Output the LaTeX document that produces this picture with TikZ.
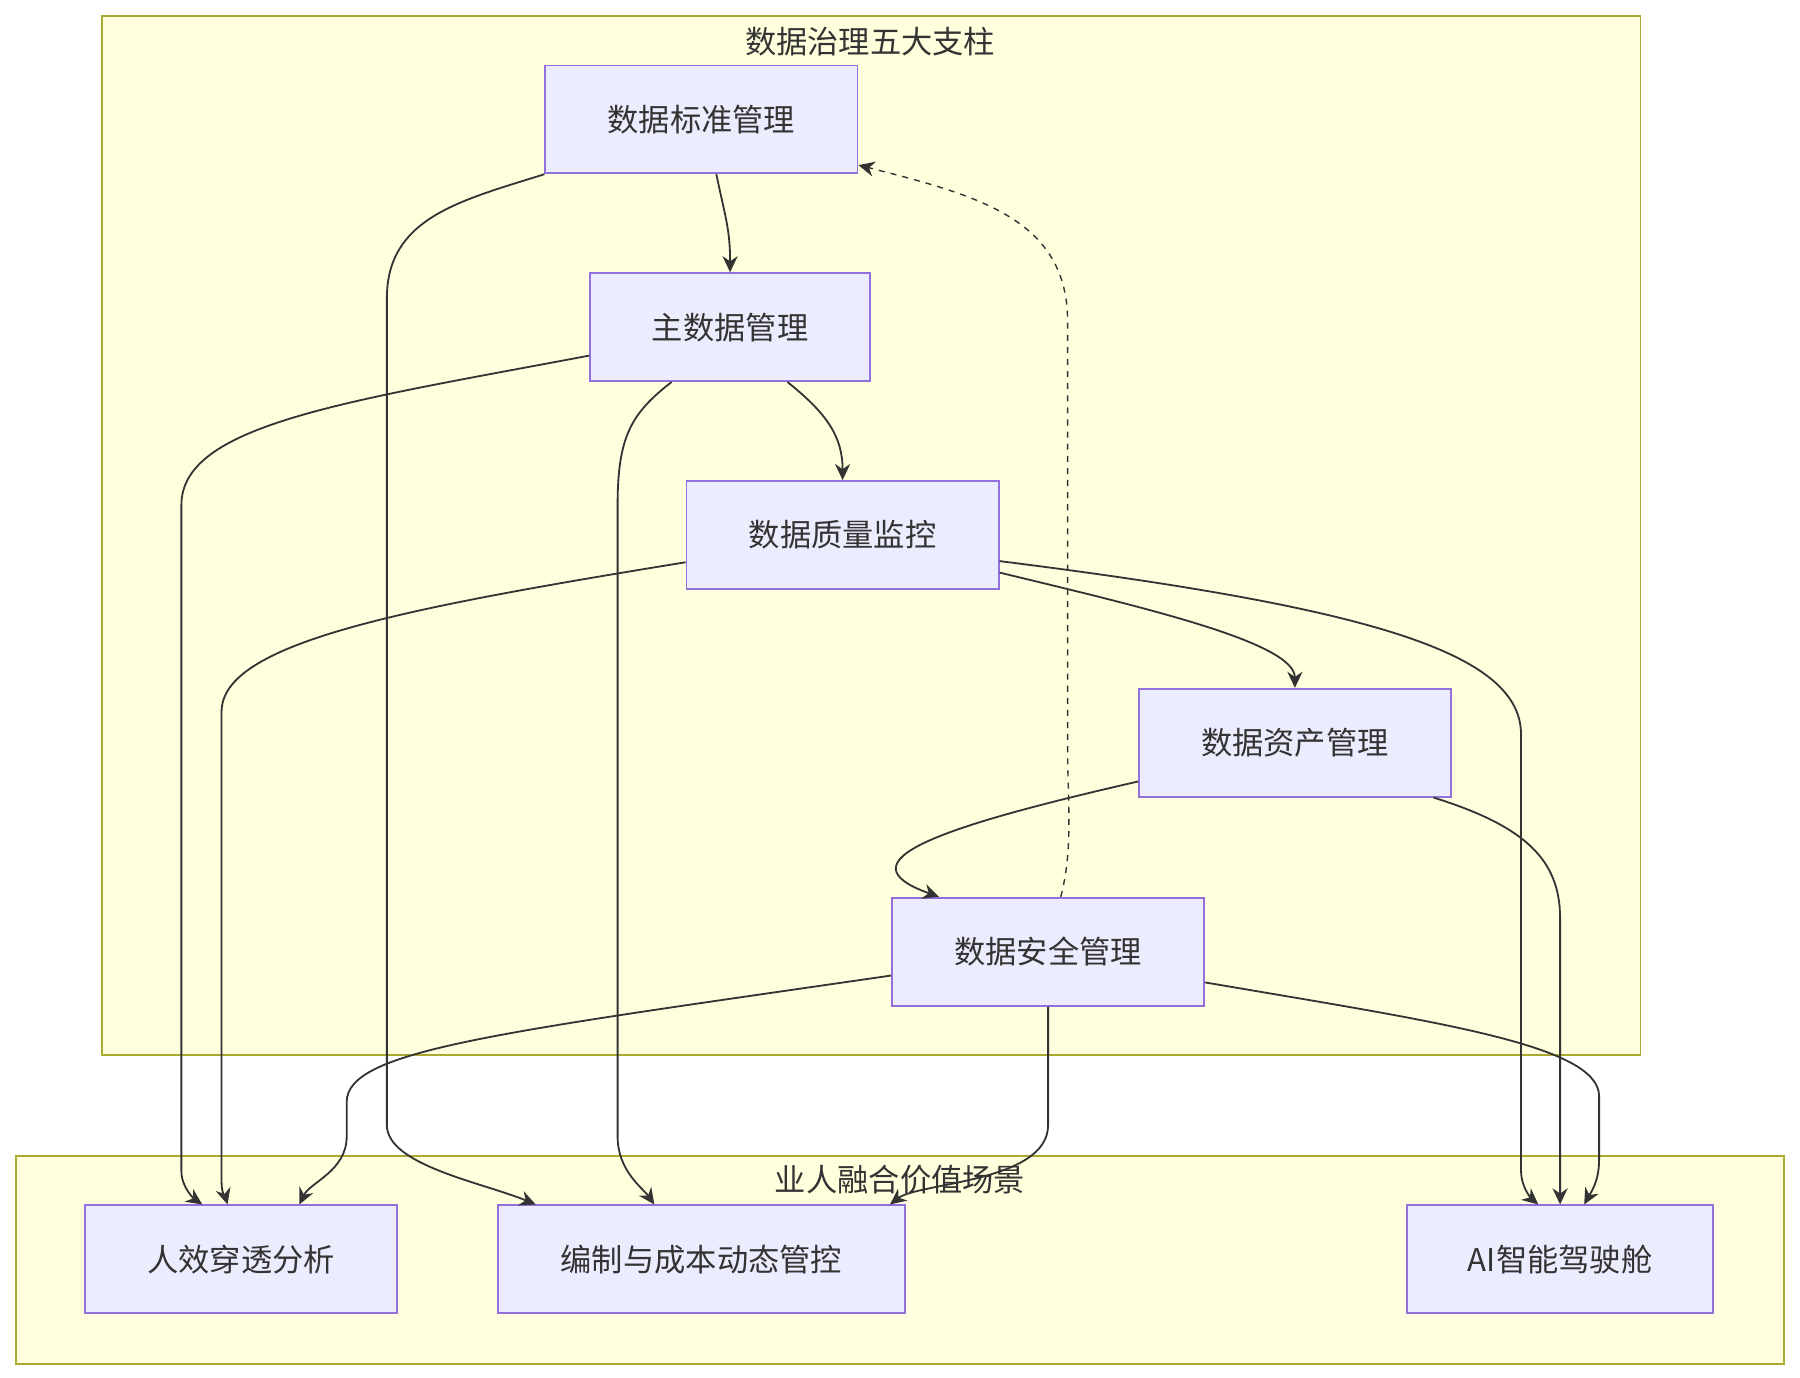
\documentclass[tikz,border=0pt]{standalone}
\usepackage{fontspec}
\setmainfont{Noto Sans CJK SC}
\usetikzlibrary{arrows.meta}
\definecolor{boxfill}{HTML}{ECECFF}
\definecolor{boxline}{HTML}{9370DB}
\definecolor{grpfill}{HTML}{FFFFDE}
\definecolor{grpline}{HTML}{AAAA33}
\definecolor{ink}{HTML}{333333}
\tikzset{
  box/.style={draw=boxline,fill=boxfill,line width=0.9pt,minimum width=5.44cm,minimum height=1.88cm,
    font=\fontsize{15.5}{18}\selectfont,text=ink},
  grp/.style={draw=grpline,fill=grpfill,line width=0.9pt},
  link/.style={draw=ink,line width=0.9pt,-{Stealth[length=8pt,width=7.5pt]}},
  ttl/.style={font=\fontsize{15.5}{18}\selectfont,text=ink}
}
\begin{document}
\begin{tikzpicture}[x=0.02cm,y=-0.02cm]
\useasboundingbox (0,0) rectangle (1568,1200);
\path[grp] (89,14) rectangle (1429,919);
\path[grp] (14,1007) rectangle (1554,1188);
\node[ttl] (t1) at (758,36) {数据治理五大支柱};

\node[box] (std) at (611,104) {数据标准管理};
\node[box,minimum width=4.88cm] (mdm) at (636,285) {主数据管理};
\node[box] (qua) at (734,466) {数据质量监控};
\node[box] (ast) at (1128,647) {数据资产管理};
\node[box] (sec) at (913,829) {数据安全管理};

\node[box] (hr) at (210,1097) {人效穿透分析};
\node[box,minimum width=7.1cm] (cost) at (611,1097) {编制与成本动态管控};
\node[box,minimum width=5.34cm] (ai) at (1359,1097) {AI智能驾驶舱};

% pillars among themselves
\draw[link] ([xshift=0.26cm]std.south) .. controls (632,190) and (636,200) .. (mdm.north);
\draw[link] ([xshift=1.0cm]mdm.south) .. controls (720,360) and (734,380) .. (qua.north);
\draw[link] ([yshift=0.3cm]qua.south east) .. controls (1000,530) and (1128,560) .. (ast.north);
\draw[link] ([yshift=0.28cm]ast.south west) .. controls (820,720) and (730,750) .. ([xshift=-1.9cm]sec.north);
\draw[link,dashed,line width=0.7pt] ([xshift=0.22cm]sec.north) .. controls (935,740) and (930,700) .. (930,650)
  -- (930,280) .. controls (930,190) and (850,170) .. ([yshift=0.16cm]std.south east);

% to scenes
\draw[link] (std.south west) .. controls (400,175) and (337,190) .. (337,260) -- (337,980)
  .. controls (337,1015) and (420,1030) .. ([xshift=0.68cm]cost.north west);
\draw[link] ([yshift=0.46cm]mdm.south west) .. controls (300,350) and (158,370) .. (158,440) -- (158,1020)
  .. controls (158,1035) and (170,1045) .. ([xshift=2.06cm]hr.north west);
\draw[link] ([xshift=-1.02cm]mdm.south) .. controls (550,360) and (538,380) .. (538,440) -- (538,990)
  .. controls (538,1020) and (560,1035) .. ([xshift=-0.82cm]cost.north);
\draw[link] ([yshift=0.48cm]qua.south west) .. controls (350,530) and (193,560) .. (193,620) -- (193,1030)
  .. controls (193,1040) and (197,1045) .. ([xshift=2.5cm]hr.north west);
\draw[link] ([yshift=0.5cm]qua.south east) .. controls (1200,530) and (1325,570) .. (1325,640) -- (1325,1020)
  .. controls (1325,1035) and (1335,1045) .. ([xshift=-0.38cm]ai.north);
\draw[link] ([xshift=-0.32cm]ast.south east) .. controls (1330,720) and (1359,750) .. (1359,800) -- (ai.north);
\draw[link] ([yshift=0.54cm]sec.south west) .. controls (430,900) and (302,915) .. (302,960) -- (302,990)
  .. controls (302,1020) and (270,1030) .. ([xshift=-1.72cm]hr.north east);
\draw[link] (sec.south) -- (913,980) .. controls (913,1030) and (800,1030) .. ([xshift=-0.28cm]cost.north east);
\draw[link] ([yshift=0.42cm]sec.south east) .. controls (1250,890) and (1393,910) .. (1393,955) -- (1393,1010)
  .. controls (1393,1030) and (1385,1040) .. ([xshift=0.42cm]ai.north);

\node[ttl] (t2) at (784,1028) {业人融合价值场景};
\end{tikzpicture}
\end{document}
